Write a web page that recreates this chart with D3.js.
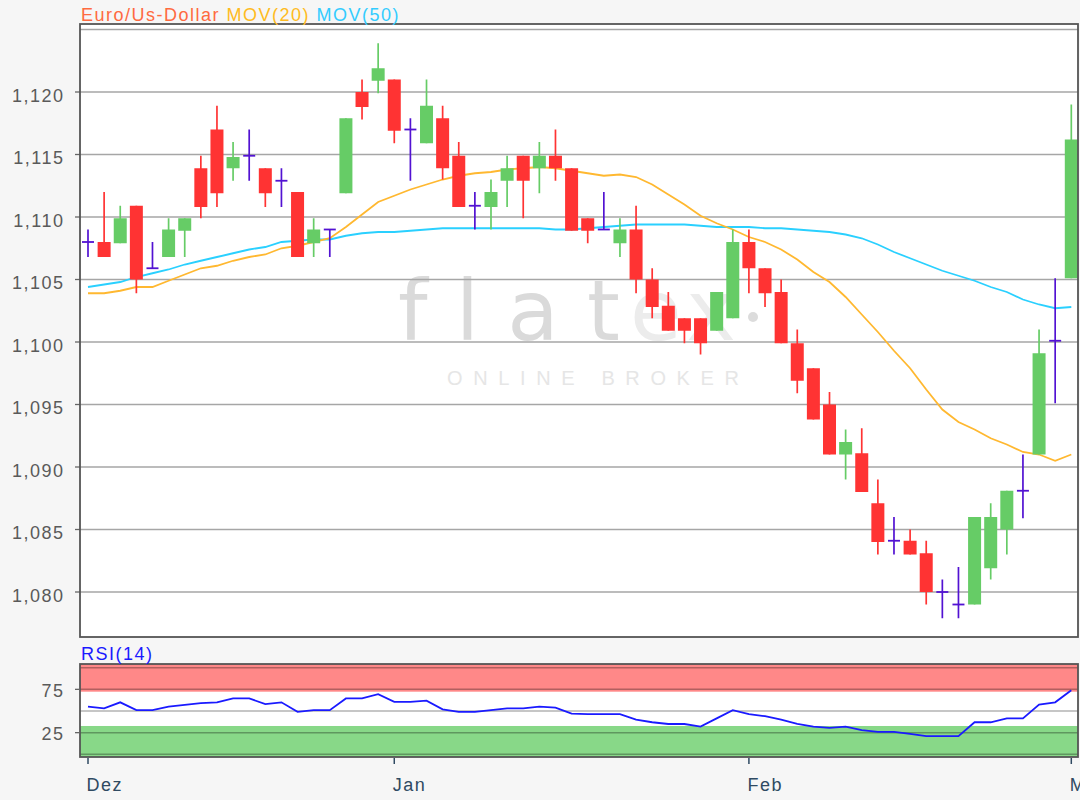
<!DOCTYPE html>
<html>
<head>
<meta charset="utf-8">
<script src="https://cdn.jsdelivr.net/npm/d3@7/dist/d3.min.js"></script>
<style>
body { margin: 0; background: #f6f6f6; }
text { font-family: "Liberation Sans", Arial, sans-serif; }
.wm { font-variant-ligatures: none; font-feature-settings: "liga" 0; }
</style>
</head>
<body>
<div class="chart"></div>
<script>
// Euro/Us-Dollar candles with MOV(20), MOV(50) and RSI(14)

// daily prices, one entry per trading day (Dez .. Mar)
var opens  = [1.1080,1.1080,1.1079,1.1109,1.1059,1.1068,1.1089,1.1139,1.1170,1.1139,
              1.1149,1.1139,1.1129,1.1120,1.1079,1.1090,1.1119,1.1200,1.1209,1.1210,
              1.1170,1.1159,1.1179,1.1149,1.1109,1.1108,1.1129,1.1149,1.1139,1.1149,
              1.1139,1.1099,1.1090,1.1079,1.1090,1.1050,1.1029,1.1019,1.1019,1.1009,
              1.1019,1.1080,1.1059,1.1040,1.0999,1.0979,1.0950,1.0910,1.0911,1.0871,
              1.0841,1.0841,1.0831,1.0800,1.0790,1.0790,1.0819,1.0850,1.0881,1.0910,
              1.1001,1.1051];
var highs  = [1.1090,1.1120,1.1109,1.1109,1.1080,1.1099,1.1099,1.1149,1.1189,1.1160,
              1.1170,1.1139,1.1139,1.1120,1.1099,1.1090,1.1179,1.1210,1.1239,1.1210,
              1.1179,1.1210,1.1189,1.1160,1.1120,1.1130,1.1149,1.1149,1.1160,1.1170,
              1.1139,1.1099,1.1120,1.1099,1.1109,1.1059,1.1040,1.1019,1.1019,1.1040,
              1.1090,1.1090,1.1059,1.1050,1.1010,1.0979,1.0960,1.0930,1.0931,1.0890,
              1.0860,1.0850,1.0841,1.0810,1.0820,1.0860,1.0871,1.0881,1.0910,1.1010,
              1.1051,1.1190];
var lows   = [1.1068,1.1068,1.1079,1.1039,1.1059,1.1068,1.1068,1.1099,1.1108,1.1129,
              1.1129,1.1108,1.1108,1.1068,1.1068,1.1068,1.1119,1.1178,1.1199,1.1159,
              1.1129,1.1159,1.1130,1.1108,1.1090,1.1090,1.1108,1.1099,1.1119,1.1129,
              1.1089,1.1079,1.1090,1.1068,1.1039,1.1019,1.1009,1.0999,1.0990,1.1009,
              1.1019,1.1039,1.1028,1.0999,1.0959,1.0938,1.0910,1.0890,1.0880,1.0830,
              1.0830,1.0830,1.0790,1.0779,1.0779,1.0790,1.0810,1.0830,1.0859,1.0910,
              1.0951,1.1051];
var closes = [1.1080,1.1068,1.1099,1.1050,1.1059,1.1090,1.1099,1.1108,1.1119,1.1148,
              1.1149,1.1119,1.1129,1.1068,1.1090,1.1090,1.1179,1.1188,1.1219,1.1169,
              1.1170,1.1189,1.1139,1.1108,1.1109,1.1120,1.1139,1.1129,1.1149,1.1139,
              1.1089,1.1089,1.1090,1.1090,1.1050,1.1028,1.1009,1.1009,1.0999,1.1040,
              1.1080,1.1059,1.1039,1.0999,1.0969,1.0938,1.0910,1.0920,1.0880,1.0840,
              1.0841,1.0830,1.0800,1.0800,1.0790,1.0860,1.0860,1.0881,1.0881,1.0991,
              1.1001,1.1162];

// moving averages as drawn
var mov20 = [1.1039,1.1039,1.1041,1.1044,1.1044,1.1049,1.1054,1.1059,1.1061,1.1065,
             1.1068,1.1070,1.1075,1.1077,1.1080,1.1083,1.1092,1.1102,1.1112,1.1117,
             1.1122,1.1126,1.1130,1.1133,1.1135,1.1136,1.1138,1.1139,1.1140,1.1139,
             1.1137,1.1135,1.1133,1.1134,1.1132,1.1126,1.1118,1.1110,1.1101,1.1095,
             1.1090,1.1084,1.1080,1.1074,1.1066,1.1056,1.1048,1.1036,1.1022,1.1008,
             1.0993,1.0979,1.0962,1.0946,1.0936,1.0930,1.0923,1.0918,1.0912,1.0910,
             1.0905,1.0910];
var mov50 = [1.1044,1.1046,1.1048,1.1052,1.1055,1.1058,1.1062,1.1065,1.1068,1.1071,
             1.1074,1.1076,1.1080,1.1081,1.1082,1.1082,1.1085,1.1087,1.1088,1.1088,
             1.1089,1.1090,1.1091,1.1091,1.1091,1.1091,1.1091,1.1091,1.1091,1.1090,
             1.1090,1.1091,1.1092,1.1093,1.1094,1.1094,1.1094,1.1094,1.1093,1.1092,
             1.1092,1.1092,1.1091,1.1091,1.1090,1.1089,1.1088,1.1086,1.1083,1.1078,
             1.1072,1.1067,1.1062,1.1057,1.1053,1.1049,1.1044,1.1040,1.1034,1.1030,
             1.1027,1.1028];

// RSI(14)
var rsi = [55,53,60,51,51,55,57,59,60,64.5,64.5,58,60,49,51,51,64.5,64.5,69.5,60.5,
           60.5,62,52,49,49,51,53,53,55,54,47,46.5,46.5,46.5,40,37,35,35,32,41.5,
           51,46.5,44,40,35,32,30.5,32,28,26,26,23.5,21,21,21,37,37,41.5,41.5,57.5,
           60,74];

// axis ticks
var priceTicks = [1.080,1.085,1.090,1.095,1.100,1.105,1.110,1.115,1.120];
var priceGrid = [1.080,1.085,1.090,1.095,1.100,1.105,1.110,1.115,1.120,1.125];
var rsiTicks = [25,75];
var rsiGrid = [0,25,50,75,100];
var monthLabels = ["Dez","Jan","Feb","Mar"];
var monthIndex = [0,19,41,61];

var data = opens.map(function(o, i) {
    return {i: i, open: o, high: highs[i], low: lows[i], close: closes[i]};
});

// layout
var plot = {left: 80, right: 1078, top: 24, bottom: 637};
var rsiBox = {top: 664, bottom: 757};

var svg = d3.select(".chart")
    .append("svg")
    .attr("width", 1080)
    .attr("height", 800)
    .style("display", "block");

var xScale = d3.scaleLinear().domain([0, 61]).range([88, 1071.3]);
var yScale = d3.scaleLinear().domain([1.0764, 1.12544]).range([plot.bottom, plot.top]);
var rScale = d3.scaleLinear().domain([0, 100]).range([754.3, 667.7]);

var fmt = d3.formatLocale({decimal: ",", thousands: ".", grouping: [3], currency: ["", ""]}).format(".3f");

svg.append("clipPath").attr("id", "clipMain")
    .append("rect")
    .attr("x", plot.left).attr("y", plot.top)
    .attr("width", plot.right - plot.left).attr("height", plot.bottom - plot.top);

// plot backgrounds
svg.append("rect")
    .attr("x", plot.left).attr("y", plot.top)
    .attr("width", plot.right - plot.left).attr("height", plot.bottom - plot.top)
    .attr("fill", "#fff");

svg.append("rect")
    .attr("x", plot.left).attr("y", rsiBox.top)
    .attr("width", plot.right - plot.left).attr("height", rsiBox.bottom - rsiBox.top)
    .attr("fill", "#fff");

// watermark
var wm = svg.append("g").attr("class", "wm");
wm.append("text")
    .attr("x", 398).attr("y", 340)
    .attr("textLength", 222).attr("lengthAdjust", "spacing")
    .style("font-family", "'DejaVu Sans', sans-serif")
    .style("font-size", "84px")
    .attr("fill", "#dadada")
    .text("flat");
wm.append("text")
    .attr("x", 630).attr("y", 340)
    .attr("textLength", 106).attr("lengthAdjust", "spacing")
    .style("font-family", "'DejaVu Sans', sans-serif")
    .style("font-size", "84px")
    .attr("fill", "#ececec")
    .text("ex");
wm.append("circle")
    .attr("cx", 753).attr("cy", 317).attr("r", 5)
    .attr("fill", "#dcdcdc");
wm.append("text")
    .attr("x", 447).attr("y", 385)
    .attr("textLength", 292).attr("lengthAdjust", "spacing")
    .style("font-size", "20px")
    .attr("fill", "#e6e6e6")
    .text("ONLINE BROKER");

// price grid
svg.selectAll(".pgrid")
    .data(priceGrid)
    .enter().append("line")
    .attr("class", "pgrid")
    .attr("x1", plot.left).attr("x2", plot.right)
    .attr("y1", function(d) { return yScale(d); })
    .attr("y2", function(d) { return yScale(d); })
    .attr("stroke", "#a6a6a6")
    .attr("stroke-width", 1.6);

// y labels + small ticks
svg.selectAll(".plabel")
    .data(priceTicks)
    .enter().append("text")
    .attr("class", "plabel")
    .attr("x", 64.5)
    .attr("y", function(d) { return yScale(d) + 9.5; })
    .attr("text-anchor", "end")
    .style("font-size", "18px")
    .style("letter-spacing", "1.5px")
    .attr("fill", "#5a5a5a")
    .text(function(d) { return fmt(d); });

svg.selectAll(".ptick")
    .data(priceTicks)
    .enter().append("line")
    .attr("x1", 75).attr("x2", plot.left)
    .attr("y1", function(d) { return yScale(d); })
    .attr("y2", function(d) { return yScale(d); })
    .attr("stroke", "#666").attr("stroke-width", 1.3);

// moving averages
var main = svg.append("g").attr("clip-path", "url(#clipMain)");

var maLine = d3.line()
    .x(function(d, i) { return xScale(i); })
    .y(function(d) { return yScale(d); });

main.append("path")
    .datum(mov50)
    .attr("d", maLine)
    .attr("fill", "none")
    .attr("stroke", "#2ad0ff")
    .attr("stroke-width", 1.8);

main.append("path")
    .datum(mov20)
    .attr("d", maLine)
    .attr("fill", "none")
    .attr("stroke", "#ffb830")
    .attr("stroke-width", 1.8);

// candles
function candleColor(d) {
    if (d.close > d.open) return "#66cc66";
    if (d.close < d.open) return "#ff3333";
    return "#5212d2";
}

var candles = main.selectAll(".candle")
    .data(data)
    .enter().append("g")
    .attr("class", "candle");

candles.append("line")
    .attr("x1", function(d) { return xScale(d.i); })
    .attr("x2", function(d) { return xScale(d.i); })
    .attr("y1", function(d) { return yScale(d.high); })
    .attr("y2", function(d) { return yScale(d.low); })
    .attr("stroke", candleColor)
    .attr("stroke-width", 1.7);

candles.filter(function(d) { return d.open != d.close; })
    .append("rect")
    .attr("x", function(d) { return xScale(d.i) - 6.5; })
    .attr("width", 13)
    .attr("y", function(d) { return yScale(Math.max(d.open, d.close)); })
    .attr("height", function(d) { return Math.abs(yScale(d.open) - yScale(d.close)); })
    .attr("fill", candleColor);

// doji: just a cross
candles.filter(function(d) { return d.open == d.close; })
    .append("line")
    .attr("x1", function(d) { return xScale(d.i) - 6; })
    .attr("x2", function(d) { return xScale(d.i) + 6; })
    .attr("y1", function(d) { return yScale(d.open); })
    .attr("y2", function(d) { return yScale(d.open); })
    .attr("stroke", "#5212d2")
    .attr("stroke-width", 1.8);

// frame of price plot
svg.append("rect")
    .attr("x", plot.left).attr("y", plot.top)
    .attr("width", plot.right - plot.left).attr("height", plot.bottom - plot.top)
    .attr("fill", "none")
    .attr("stroke", "#555")
    .attr("stroke-width", 1.8);

// legend
var legend = svg.append("text")
    .attr("x", 81).attr("y", 20.5)
    .style("font-size", "18px")
    .style("letter-spacing", "1.5px");
legend.append("tspan").attr("fill", "#ff6a40").text("Euro/Us-Dollar ");
legend.append("tspan").attr("fill", "#ffbb22").text("MOV(20) ");
legend.append("tspan").attr("fill", "#33ccff").text("MOV(50)");

// RSI panel
svg.append("rect")
    .attr("x", plot.left).attr("y", rsiBox.top)
    .attr("width", plot.right - plot.left)
    .attr("height", rScale(72.3) - rsiBox.top)
    .attr("fill", "#ff8888");

svg.append("rect")
    .attr("x", plot.left).attr("y", rScale(32.7))
    .attr("width", plot.right - plot.left)
    .attr("height", rsiBox.bottom - rScale(32.7))
    .attr("fill", "#88d888");

svg.selectAll(".rgrid")
    .data(rsiGrid)
    .enter().append("line")
    .attr("x1", plot.left).attr("x2", plot.right)
    .attr("y1", function(d) { return rScale(d); })
    .attr("y2", function(d) { return rScale(d); })
    .attr("stroke", "rgba(0,0,0,0.3)")
    .attr("stroke-width", 1.5);

var rsiLine = d3.line()
    .x(function(d, i) { return xScale(i); })
    .y(function(d) { return rScale(d); });

svg.append("path")
    .datum(rsi)
    .attr("d", rsiLine)
    .attr("fill", "none")
    .attr("stroke", "#1a1aff")
    .attr("stroke-width", 1.8);

svg.append("rect")
    .attr("x", plot.left).attr("y", rsiBox.top)
    .attr("width", plot.right - plot.left).attr("height", rsiBox.bottom - rsiBox.top)
    .attr("fill", "none")
    .attr("stroke", "#555")
    .attr("stroke-width", 1.8);

svg.selectAll(".rlabel")
    .data(rsiTicks)
    .enter().append("text")
    .attr("x", 64.5)
    .attr("y", function(d) { return rScale(d) + 7.5; })
    .attr("text-anchor", "end")
    .style("font-size", "18px")
    .style("letter-spacing", "1.5px")
    .attr("fill", "#5a5a5a")
    .text(function(d) { return d; });

svg.selectAll(".rtick")
    .data(rsiTicks)
    .enter().append("line")
    .attr("x1", 75).attr("x2", plot.left)
    .attr("y1", function(d) { return rScale(d); })
    .attr("y2", function(d) { return rScale(d); })
    .attr("stroke", "#666").attr("stroke-width", 1.3);

svg.append("text")
    .attr("x", 81).attr("y", 660)
    .style("font-size", "18px")
    .style("letter-spacing", "1.5px")
    .attr("fill", "#1a1aff")
    .text("RSI(14)");

// month axis (the last label runs off the right edge, as in the original)
svg.selectAll(".mtick")
    .data(monthIndex)
    .enter().append("line")
    .attr("x1", function(d) { return xScale(d); })
    .attr("x2", function(d) { return xScale(d); })
    .attr("y1", rsiBox.bottom + 1).attr("y2", rsiBox.bottom + 7)
    .attr("stroke", "#2f4a62").attr("stroke-width", 1.5);

svg.selectAll(".mlabel")
    .data(monthIndex)
    .enter().append("text")
    .attr("x", function(d) { return xScale(d) - 1.5; })
    .attr("y", 791)
    .style("font-size", "18px")
    .style("letter-spacing", "1.5px")
    .attr("fill", "#2f4a62")
    .text(function(d, i) { return monthLabels[i]; });
</script>
</body>
</html>
